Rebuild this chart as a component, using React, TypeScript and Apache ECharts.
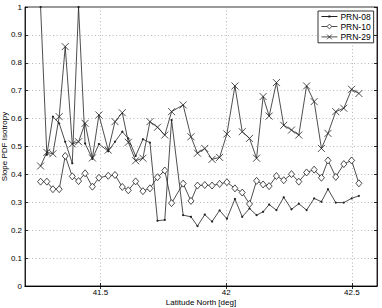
import React, { useEffect, useRef } from "react";
import * as echarts from "echarts";

const latitude = [41.262, 41.287, 41.311, 41.336, 41.360, 41.388, 41.413, 41.439, 41.468, 41.494, 41.531, 41.558, 41.587, 41.611, 41.640, 41.669, 41.697, 41.727, 41.756, 41.783, 41.829, 41.860, 41.886, 41.915, 41.944, 41.974, 42.003, 42.035, 42.064, 42.093, 42.121, 42.147, 42.171, 42.200, 42.229, 42.260, 42.289, 42.320, 42.350, 42.379, 42.405, 42.436, 42.468, 42.499, 42.528];

const prn08 = [1.0, 0.47, 0.607, 0.583, 0.517, 0.44, 1.0, 0.511, 0.456, 0.509, 0.483, 0.517, 0.553, 0.529, 0.466, 0.526, 0.514, 0.234, 0.237, 0.595, 0.254, 0.248, 0.215, 0.256, 0.231, 0.271, 0.241, 0.312, 0.248, 0.278, 0.254, 0.266, 0.292, 0.272, 0.318, 0.275, 0.295, 0.272, 0.314, 0.302, 0.347, 0.299, 0.299, 0.314, 0.323];

const prn10 = [0.374, 0.374, 0.347, 0.347, 0.466, 0.393, 0.376, 0.404, 0.356, 0.388, 0.395, 0.398, 0.355, 0.343, 0.375, 0.340, 0.350, 0.390, 0.414, 0.297, 0.367, 0.305, 0.360, 0.362, 0.360, 0.366, 0.372, 0.350, 0.335, 0.294, 0.377, 0.364, 0.358, 0.394, 0.379, 0.401, 0.374, 0.407, 0.417, 0.388, 0.450, 0.391, 0.437, 0.450, 0.368];

const prn29 = [0.430, 0.479, 0.474, 0.607, 0.858, 0.509, 0.517, 0.583, 0.459, 0.613, 0.487, 0.589, 0.621, 0.515, 0.449, 0.458, 0.589, 0.569, 0.541, 0.625, 0.649, 0.535, 0.476, 0.493, 0.454, 0.461, 0.545, 0.717, 0.553, 0.529, 0.458, 0.679, 0.609, 0.729, 0.576, 0.559, 0.541, 0.717, 0.661, 0.493, 0.547, 0.625, 0.637, 0.705, 0.690];

const seriesNames = ["PRN-08", "PRN-10", "PRN-29"];
const xTicks = [41.5, 42, 42.5];

const FONT = "Liberation Sans";
const INK = "#222";

export default function App() {
  const ref = useRef<HTMLDivElement>(null);
  useEffect(() => {
    if (!ref.current) return;
    const chart = echarts.init(ref.current, null, { renderer: "svg" });
    const pair = (ys: number[]) => latitude.map((x, i) => [x, ys[i]]);
    const gridLine = { show: true, lineStyle: { color: "#999", width: 0.7, type: [1, 2.5] as any } };
    const lineStyle = { color: INK, width: 0.8 };
    chart.setOption({
      animation: false,
      backgroundColor: "#fff",
      textStyle: { fontFamily: FONT },
      grid: {
        left: 25, right: 5, top: 7, bottom: 22,
        outerBoundsMode: "none",
        containLabel: false,
        show: true, borderColor: "#000", borderWidth: 0.8,
      },
      legend: {
        orient: "vertical",
        left: 318,
        top: 11,
        padding: [1, 3, 1, 3],
        itemGap: 1,
        itemWidth: 16,
        itemHeight: 6,
        backgroundColor: "#fff",
        borderColor: "#000",
        borderWidth: 0.8,
        borderRadius: 0,
        itemStyle: { borderWidth: 0.8 },
        lineStyle: { width: 0.8 },
        textStyle: { fontSize: 8.5, color: "#000", fontFamily: FONT, padding: [0, 0, 0, -2] },
        data: [
          { name: seriesNames[0], icon: "path://M0,2.6L16,2.6L16,3.4L0,3.4Z M7,2L9,2L9,4L7,4Z", itemStyle: { borderWidth: 0 } },
          seriesNames[1],
          seriesNames[2],
        ],
      },
      xAxis: [
        {
          type: "value",
          min: 41.2,
          max: 42.6,
          name: "Latitude North [deg]",
          nameLocation: "middle",
          nameGap: 12,
          nameMoveOverlap: false,
          nameTextStyle: { fontSize: 8, color: "#000", fontFamily: FONT },
          axisLine: { show: true, lineStyle: { color: "#000", width: 0.8 } },
          axisTick: { show: true, inside: true, length: 3, customValues: xTicks, lineStyle: { color: "#000", width: 0.8 } },
          axisLabel: { show: true, customValues: xTicks, fontSize: 8, color: "#000", margin: 2, fontFamily: FONT },
          splitLine: gridLine,
        },
        {
          type: "value",
          position: "top",
          min: 41.2,
          max: 42.6,
          axisLine: { show: true, lineStyle: { color: "#000", width: 0.8 } },
          axisTick: { show: true, inside: true, length: 3, customValues: xTicks, lineStyle: { color: "#000", width: 0.8 } },
          axisLabel: { show: false },
          splitLine: { show: false },
        },
      ],
      yAxis: [
        {
          type: "value",
          min: 0,
          max: 1,
          interval: 0.1,
          name: "Slope PDF Isotropy",
          nameLocation: "middle",
          nameGap: 17,
          nameMoveOverlap: false,
          nameTextStyle: { fontSize: 8, color: "#000", fontFamily: FONT },
          axisLine: { show: true, lineStyle: { color: "#000", width: 0.8 } },
          axisTick: { show: true, inside: true, length: 3, lineStyle: { color: "#000", width: 0.8 } },
          axisLabel: { fontSize: 8, color: "#000", margin: 3, fontFamily: FONT },
          splitLine: gridLine,
        },
        {
          type: "value",
          position: "right",
          min: 0,
          max: 1,
          interval: 0.1,
          axisLine: { show: true, lineStyle: { color: "#000", width: 0.8 } },
          axisTick: { show: true, inside: true, length: 3, lineStyle: { color: "#000", width: 0.8 } },
          axisLabel: { show: false },
          splitLine: { show: false },
        },
      ],
      series: [
        {
          name: seriesNames[0],
          type: "line",
          data: pair(prn08),
          symbol: "circle",
          symbolSize: 2.2,
          showAllSymbol: true,
          itemStyle: { color: INK, borderColor: INK, borderWidth: 0 },
          lineStyle,
        },
        {
          name: seriesNames[1],
          type: "line",
          data: pair(prn10),
          symbol: "diamond",
          symbolSize: [6, 7],
          showAllSymbol: true,
          itemStyle: { color: "#fff", borderColor: INK, borderWidth: 0.8 },
          lineStyle,
        },
        {
          name: seriesNames[2],
          type: "line",
          data: pair(prn29),
          symbol: "path://M0,0L10,10M10,0L0,10",
          symbolSize: 7,
          showAllSymbol: true,
          itemStyle: { color: "none", borderColor: INK, borderWidth: 0.8 },
          lineStyle,
          z: 3,
        },
      ],
    });
    return () => chart.dispose();
  }, []);
  return <div ref={ref} style={{ width: 382, height: 308, position: "absolute", left: 0, top: 0 }} />;
}
